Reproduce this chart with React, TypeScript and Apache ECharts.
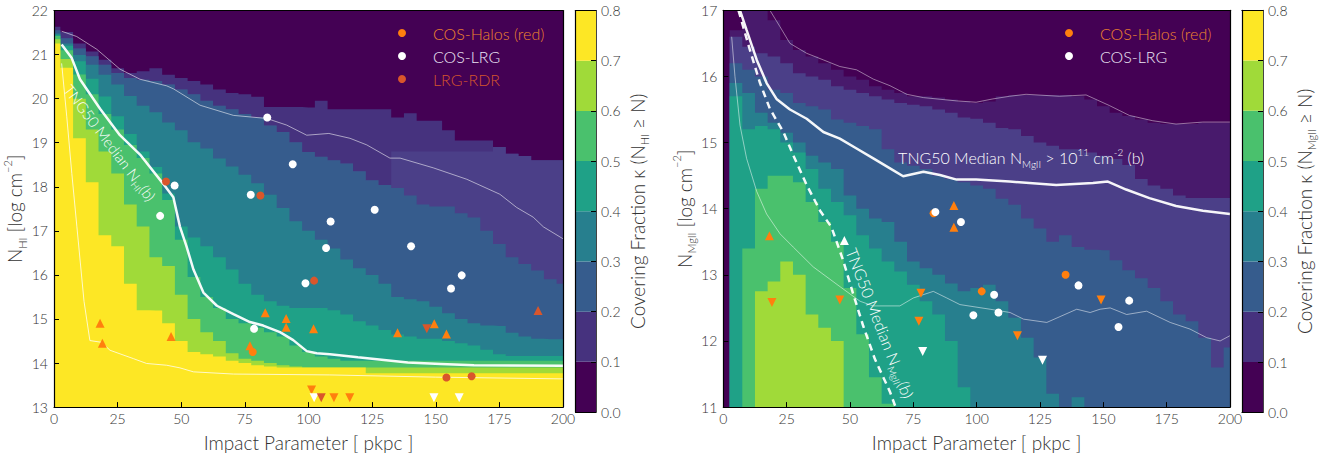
import { useEffect, useRef } from 'react';
import * as echarts from 'echarts';

const FONT = 'Lato, "Open Sans", "DejaVu Sans", sans-serif';
const FW = 300;

// impact parameters (pkpc) of the covering-fraction map columns
const mapB = [0, 5, 10, 15, 20, 25, 30, 35, 40, 45, 50, 55, 60, 65, 70, 75, 80, 85, 90, 95, 100,
  105, 110, 115, 120, 125, 130, 135, 140, 145, 150, 155, 160, 165, 170, 175, 180, 185, 190, 195, 200];

// ---------- HI panel: upper edge (log N) of each covering-fraction band ----------
const hiBand1 = [21.63, 21.51, 21.25, 21.07, 20.88, 20.69, 20.58, 20.62, 20.69, 20.54, 20.47, 20.40, 20.32, 20.21, 20.13, 20.10, 20.04, 19.81, 19.81, 19.81, 19.80,
  19.95, 19.76, 19.76, 19.76, 19.76, 19.76, 19.57, 19.67, 19.5, 19.5, 19.28, 19.05, 19.05, 19.05, 18.9, 18.75, 18.7, 18.6, 18.6, 18.6];
const hiBand1b = [21.55, 21.37, 21.14, 20.96, 20.77, 20.58, 20.47, 20.43, 20.40, 20.32, 20.21, 20.10, 19.95, 19.84, 19.76, 19.65, 19.57, 19.39, 19.24, 19.01, 18.79,
  18.68, 18.6, 18.53, 18.35, 18.15, 18.04, 18.8, 18.8, 18.8, 18.8, 18.8, 18.8, 18.8, 18.8, 18.9, 18.75, 18.7, 18.6, 18.6, 18.6];
const hiBand2 = [21.55, 21.37, 21.14, 20.96, 20.77, 20.58, 20.47, 20.43, 20.40, 20.32, 20.21, 20.10, 19.95, 19.84, 19.76, 19.65, 19.57, 19.39, 19.24, 19.01, 18.79,
  18.68, 18.6, 18.53, 18.35, 18.15, 18.04, 17.97, 17.8, 17.6, 17.55, 17.55, 17.4, 17.3, 17.0, 16.7, 16.4, 16.25, 16.1, 15.9, 15.8];
const hiBand3 = [21.48, 21.25, 20.99, 20.77, 20.54, 20.32, 20.06, 19.84, 19.69, 19.46, 19.28, 19.01, 18.87, 18.64, 18.46, 18.27, 18.08, 17.82, 17.52, 17.22, 17.0,
  16.8, 16.6, 16.35, 16.15, 16.0, 15.8, 15.5, 15.45, 15.4, 15.28, 15.13, 15.0, 14.9, 14.85, 14.84, 14.69, 14.6, 14.55, 14.54, 14.54];
const hiBand4 = [21.45, 21.2, 20.85, 20.45, 20.05, 19.6, 19.2, 18.8, 18.45, 17.85, 17.1, 16.85, 16.65, 16.4, 16.12, 15.8, 15.55, 15.4, 15.3, 15.25, 15.25,
  15.25, 15.2, 15.1, 14.95, 14.85, 14.75, 14.65, 14.6, 14.55, 14.55, 14.5, 14.45, 14.4, 14.3, 14.2, 14.16, 14.16, 14.16, 14.16, 14.16];
const hiBand5 = [21.42, 21.1, 20.55, 20.1, 19.65, 19.3, 18.95, 18.65, 18.3, 17.7, 16.8, 15.95, 15.5, 15.25, 15.0, 14.9, 14.8, 14.7, 14.6, 14.4, 14.25,
  14.15, 14.1, 14.05, 14.05, 14.05, 14.05, 14.05, 14.05, 14.05, 14.05, 14.05, 14.05, 14.05, 14.05, 14.05, 14.05, 14.05, 14.05, 14.05, 14.05];
const hiBand6 = [21.35, 20.9, 20.0, 19.3, 18.8, 18.3, 17.6, 17.1, 16.4, 16.2, 15.55, 15.0, 14.7, 14.5, 14.22, 14.1, 14.05, 14.0, 13.95, 13.92, 13.9,
  13.9, 13.9, 13.9, 13.9, 13.9, 13.9, 13.9, 13.9, 13.9, 13.9, 13.9, 13.9, 13.9, 13.9, 13.9, 13.9, 13.9, 13.9, 13.9, 13.9];
const hiBand7 = [21.25, 20.7, 19.1, 18.1, 16.9, 16.65, 15.8, 15.2, 15.19, 14.9, 14.5, 14.25, 14.2, 14.15, 14.05, 14.0, 13.95, 13.92, 13.9, 13.9, 13.9,
  13.9, 13.9, 13.9, 13.9, 13.77, 13.77, 13.77, 13.77, 13.77, 13.77, 13.77, 13.77, 13.77, 13.77, 13.77, 13.77, 13.77, 13.77, 13.77, 13.77];
const hiBandColors = ['#46327e', '#4b3f88', '#365c8d', '#277f8e', '#1fa187', '#4ac16d', '#a0da39', '#fde725'];

// ---------- MgII panel: upper edge (log N) of each band ----------
const mgBand0b = [11, 16.7, 17, 17, 16.85, 16.55, 16.4, 16.3, 16.2, 16.1, 16.0, 15.95, 15.85, 15.8, 15.75, 15.7, 15.7, 15.68, 15.65, 15.62, 15.6,
  15.62, 15.7, 15.72, 15.72, 15.72, 15.72, 15.72, 15.7, 15.65, 15.55, 15.45, 15.4, 15.35, 15.3, 15.28, 15.28, 15.28, 15.3, 15.3, 15.3];
const mgBand1 = [11, 16.6, 16.45, 16.35, 16.3, 16.2, 16.05, 16.0, 15.95, 15.85, 15.8, 15.75, 15.7, 15.65, 15.6, 15.57, 15.55, 15.5, 15.45, 15.38, 15.36,
  15.3, 15.22, 15.2, 15.1, 15.0, 14.95, 14.9, 14.9, 14.85, 14.8, 14.75, 14.66, 14.45, 14.35, 14.3, 14.2, 14.16, 14.16, 14.16, 14.16];
const mgBand2 = [11, 16.2, 16.1, 16.0, 15.8, 15.75, 15.6, 15.55, 15.5, 15.35, 15.3, 15.25, 15.2, 14.9, 14.7, 14.65, 14.6, 14.5, 14.45, 14.4, 14.35,
  14.3, 14.15, 14.06, 13.85, 13.7, 13.5, 13.6, 13.42, 13.38, 13.37, 13.22, 13.07, 12.95, 12.8, 12.6, 12.4, 12.3, 12.05, 11.6, 11.9];
const mgBand3 = [11, 15.9, 15.75, 15.45, 15.3, 15.15, 15.0, 14.8, 14.7, 14.6, 14.2, 14.0, 13.85, 13.8, 13.5, 13.2, 13.1, 13.0, 12.87, 12.75, 12.8,
  12.85, 12.6, 12.35, 12.05, 11.75, 11.2, 11, 11.15, 11, 11, 11, 11, 11, 11, 11, 11, 11, 11, 11, 11];
const mgBand4 = [11, 15.7, 15.2, 15.25, 15.2, 15.0, 14.85, 14.6, 14.3, 14.1, 13.9, 13.6, 13.4, 13.2, 13.05, 12.85, 12.6, 12.4, 12.0, 11.3, 11,
  11, 11, 11, 11, 11, 11, 11, 11, 11, 11, 11, 11, 11, 11, 11, 11, 11, 11, 11, 11];
const mgBand5 = [11, 11, 13.4, 14.3, 14.5, 14.5, 14.4, 14.1, 13.8, 13.5, 12.8, 12.1, 11.45, 11.05, 11, 11, 11, 11, 11, 11, 11,
  11, 11, 11, 11, 11, 11, 11, 11, 11, 11, 11, 11, 11, 11, 11, 11, 11, 11, 11, 11];
const mgBand6 = [11, 11, 11, 12.75, 12.9, 13.2, 13.0, 12.4, 12.2, 12.0, 11, 11, 11, 11, 11, 11, 11, 11, 11, 11, 11,
  11, 11, 11, 11, 11, 11, 11, 11, 11, 11, 11, 11, 11, 11, 11, 11, 11, 11, 11, 11];
const mgBandColors = ['#481a6c', '#4b3f88', '#365c8d', '#277f8e', '#1fa187', '#4ac16d', '#a0da39'];

// colour bar
const cbEdges = [0, 0.1, 0.2, 0.3, 0.4, 0.5, 0.6, 0.7, 0.8];
const cbColors = ['#440154', '#46327e', '#365c8d', '#277f8e', '#1fa187', '#4ac16d', '#a0da39', '#fde725'];

// ---------- TNG50 profile lines ----------
const hiMedianB = [3, 6.9, 10.2, 18.1, 25.9, 33.8, 43, 46.9, 49.5, 52.1, 54.8, 58.7, 64, 70.5, 77, 82.2, 88.8, 94, 99.3, 103.2, 108.4, 119.4, 139, 152, 165, 200];
const hiMedianN = [21.23, 20.93, 20.44, 19.77, 19.17, 18.73, 18.06, 17.76, 17.09, 16.64, 16.12, 15.6, 15.3, 15.11, 14.93, 14.85, 14.7, 14.52, 14.27, 14.22, 14.2, 14.13, 14.01, 13.98, 13.95, 13.94];
const hiUpperB = [3, 8.9, 16.8, 25.9, 33.8, 44.3, 47, 57.4, 70.5, 83.6, 91.4, 99.3, 108, 116.3, 122.9, 132, 136, 149, 162.2, 175.2, 181.8, 188.3, 192.3, 200];
const hiUpperN = [21.53, 21.41, 21.12, 20.67, 20.44, 20.29, 20.22, 19.85, 19.62, 19.55, 19.4, 19.17, 19.21, 19.1, 18.95, 18.65, 18.65, 18.43, 18.17, 17.83, 17.53, 17.31, 17.09, 16.82];
const hiLowerB = [3, 5, 7, 9, 11.8, 14.1, 18.7, 22, 31.2, 36.4, 44.3, 49.5, 54.8, 70.5, 108.4, 150, 200];
const hiLowerN = [20.8, 19.6, 18.3, 17.09, 15.4, 14.51, 14.47, 14.29, 14.1, 13.99, 13.95, 13.89, 13.8, 13.75, 13.73, 13.68, 13.64];

const mgMedianB = [6.6, 9.2, 13.2, 17.1, 21, 26.3, 32.9, 39.5, 46, 52.6, 59.2, 65.8, 71, 79, 85.5, 92.1, 99.8, 113, 131.4, 145.9, 151.8, 159, 168.2, 178.7, 189.3, 200];
const mgMedianN = [17.0, 16.7, 16.25, 15.9, 15.66, 15.5, 15.36, 15.16, 15.06, 14.91, 14.76, 14.61, 14.49, 14.56, 14.51, 14.44, 14.44, 14.41, 14.36, 14.39, 14.41, 14.29, 14.16, 14.04, 13.97, 13.92];
const mgAllB = [6, 10.5, 14.5, 18.4, 23.7, 27.6, 32.9, 38.2, 42.7, 47.3, 51.2, 55.2, 59.8, 65.8, 68];
const mgAllN = [17, 16.4, 15.9, 15.51, 15.16, 14.81, 14.36, 13.97, 13.72, 13.22, 12.72, 12.23, 11.73, 11.23, 11.0];
const mgUpperB = [18.4, 22.4, 26.3, 32.9, 39.5, 46, 52.6, 59.2, 65.8, 72.4, 79, 92.1, 99.8, 106.4, 113, 119.5, 132.7, 143.2, 152.4, 160.3, 169.5, 178.7, 189.3, 200];
const mgUpperN = [17.0, 16.75, 16.5, 16.35, 16.25, 16.15, 16.1, 15.96, 15.86, 15.73, 15.68, 15.63, 15.61, 15.66, 15.7, 15.73, 15.7, 15.72, 15.56, 15.41, 15.33, 15.28, 15.31, 15.31];
const mgLowerB = [3.3, 4.6, 6.6, 9.2, 13.2, 17.1, 22.4, 27.6, 35.5, 46.1, 54, 59.2, 69.7, 75, 82.9, 88.2, 93.4, 105.3, 113.2, 118.5, 127.7, 139.5, 144.8, 148.7, 152.7, 159.2, 167.1, 176.4, 184.2, 190.8, 196.1, 200];
const mgLowerN = [16.6, 16.0, 15.26, 14.76, 14.26, 13.92, 13.62, 13.42, 13.12, 12.82, 12.6, 12.53, 12.53, 12.65, 12.75, 12.65, 12.55, 12.48, 12.43, 12.33, 12.28, 12.48, 12.43, 12.48, 12.5, 12.4, 12.45, 12.28, 12.18, 12.05, 12.0, 12.08];

// ---------- observations [b, logN] ----------
const hiHalosDet = [[78.1, 14.25]];
const hiHalosLower = [[18.1, 14.9], [19, 14.45], [46, 14.6], [77, 14.39], [83, 15.14], [91.2, 15.01], [91.2, 14.81], [102, 14.78], [135, 14.69], [149.4, 14.89], [154.2, 14.66]];
const hiHalosUpper = [[101.2, 13.39], [110, 13.21], [116.2, 13.21]];
const hiLrgDet = [[83.8, 19.57], [93.8, 18.51], [47.4, 18.03], [77.3, 17.82], [41.7, 17.34], [98.8, 15.81], [78.6, 14.78], [108.7, 17.21], [126, 17.48], [106.9, 16.61], [140.3, 16.65], [160.2, 15.99], [156, 15.69]];
const hiLrgUpper = [[102.2, 13.21], [149.3, 13.21], [159.2, 13.21]];
const hiRdrDet = [[44, 18.12], [81.1, 17.8], [102.2, 15.87], [154.2, 13.67], [164.1, 13.7]];
const hiRdrLower = [[190.2, 15.19]];
const hiRdrUpper = [[146.5, 14.78], [105, 13.21]];

const mgHalosDet = [[83, 13.93], [102, 12.75], [135.1, 13.0]];
const mgHalosLower = [[18.2, 13.59], [91, 14.05], [91, 13.72]];
const mgHalosUpper = [[19.2, 12.58], [46, 12.62], [78, 12.72], [77.2, 12.3], [116.1, 12.08], [149.1, 12.62]];
const mgLrgDet = [[83.7, 13.95], [93.8, 13.8], [98.7, 12.39], [106.9, 12.7], [108.6, 12.43], [140.2, 12.84], [160.2, 12.61], [156, 12.21]];
const mgLrgLower = [[47.8, 13.52]];
const mgLrgUpper = [[78.7, 11.84], [126, 11.71]];

const HALOS = '#ff7f0e';
const LRG = '#ffffff';
const RDR = '#d9562b';

const pairs = (xs: number[], ys: number[]) => xs.map((x, i) => [x, ys[i]]);

function bandSeries(bands: number[][], colors: string[], axis: number) {
  return bands.map((b, i) => ({
    type: 'line', xAxisIndex: axis, yAxisIndex: axis, step: 'middle', symbol: 'none', silent: true,
    data: pairs(mapB, b), lineStyle: { width: 0 },
    areaStyle: { color: colors[i], opacity: 1, origin: 'start' }, z: 1 + i * 0.01,
  }));
}

function profile(xs: number[], ys: number[], axis: number, color: string, width: number, type: any = 'solid') {
  return {
    type: 'line', xAxisIndex: axis, yAxisIndex: axis, data: pairs(xs, ys), symbol: 'none', silent: true,
    lineStyle: { color, width, type }, z: 4,
  };
}

function pts(data: number[][], axis: number, color: string, kind: string) {
  const isCircle = kind === 'o';
  return {
    type: 'scatter', xAxisIndex: axis, yAxisIndex: axis, data, silent: true,
    symbol: isCircle ? 'circle' : 'triangle', symbolRotate: kind === 'v' ? 180 : 0,
    symbolSize: isCircle ? 8 : 9, itemStyle: { color, opacity: 1 }, z: 6,
  };
}

const lineAx = { show: true, onZero: false, lineStyle: { color: '#000', width: 1.2 } };
const subRich = {
  s: { fontSize: 11, lineHeight: 14, verticalAlign: 'bottom', fontFamily: FONT, fontWeight: FW, color: '#333' },
  p: { fontSize: 11, lineHeight: 14, verticalAlign: 'top', fontFamily: FONT, fontWeight: FW, color: '#333' },
};
const nameStyle = { fontSize: 19, color: '#333', fontFamily: FONT, fontWeight: FW, lineHeight: 26, rich: subRich };

function mainX(grid: number) {
  return {
    type: 'value', gridIndex: grid, min: 0, max: 200, interval: 25, position: 'bottom', z: 10,
    axisLine: lineAx, axisTick: { show: true, inside: true, length: 5, lineStyle: { color: '#000', width: 1 } },
    axisLabel: { color: '#333', fontSize: 14, margin: 4, fontFamily: FONT, fontWeight: FW }, splitLine: { show: false },
    name: 'Impact Parameter [ pkpc ]', nameLocation: 'middle', nameGap: 18,
    nameTextStyle: { fontSize: 19, color: '#333', fontFamily: FONT, fontWeight: FW, lineHeight: 24 },
  };
}
function mainY(grid: number, min: number, max: number, name: string, gap: number) {
  return {
    type: 'value', gridIndex: grid, min, max, interval: 1, position: 'left', z: 10,
    axisLine: lineAx, axisTick: { show: true, inside: true, length: 5, lineStyle: { color: '#000', width: 1 } },
    axisLabel: { color: '#333', fontSize: 14, margin: 6, fontFamily: FONT, fontWeight: FW }, splitLine: { show: false },
    name, nameLocation: 'middle', nameGap: gap, nameRotate: 90, nameTextStyle: nameStyle,
  };
}
function borderAx(grid: number, position: string, min: any, max: any, cat = false) {
  const base: any = {
    gridIndex: grid, position, z: 10, axisLine: lineAx, axisTick: { show: false },
    axisLabel: { show: false }, splitLine: { show: false },
  };
  if (cat) return { ...base, type: 'category', data: ['κ'] };
  return { ...base, type: 'value', min, max };
}
function cbY(grid: number, name: string) {
  return {
    type: 'value', gridIndex: grid, min: 0, max: 0.8, interval: 0.1, position: 'right', z: 10,
    axisLine: { show: true, lineStyle: { color: '#444', width: 1 } },
    axisTick: { show: true, inside: true, length: 5, lineStyle: { color: '#000', width: 1 } },
    axisLabel: { color: '#333', fontSize: 14, margin: 5, fontFamily: FONT, fontWeight: FW, formatter: (v: number) => v.toFixed(1) },
    splitLine: { show: false }, name, nameLocation: 'middle', nameRotate: 90, nameGap: 24, nameTextStyle: nameStyle,
  };
}
function cbSeries(axis: number, stack: string) {
  return cbColors.map((c, i) => ({
    type: 'bar', xAxisIndex: axis, yAxisIndex: axis + 1, stack, barWidth: '100%', silent: true,
    data: [+(cbEdges[i + 1] - cbEdges[i]).toFixed(2)], itemStyle: { color: c }, z: 2,
  }));
}

export default function App() {
  const ref = useRef<HTMLDivElement>(null);
  useEffect(() => {
    document.body.style.margin = '0';
    const chart = echarts.init(ref.current as HTMLDivElement, null, { renderer: 'svg' });
    const option: any = {
      animation: false,
      textStyle: { fontFamily: FONT },
      grid: [
        { left: 54, top: 10.5, width: 509, height: 401.5, show: true, backgroundColor: '#440154', borderWidth: 0 },
        { left: 575.5, top: 10.5, width: 20.5, height: 401.5 },
        { left: 723.3, top: 10.3, width: 506.7, height: 402, show: true, backgroundColor: '#440154', borderWidth: 0 },
        { left: 1242, top: 10.3, width: 21, height: 402 },
      ],
      xAxis: [
        mainX(0), borderAx(0, 'top', 0, 200),
        borderAx(1, 'bottom', 0, 0, true), borderAx(1, 'top', 0, 0, true),
        mainX(2), borderAx(2, 'top', 0, 200),
        borderAx(3, 'bottom', 0, 0, true), borderAx(3, 'top', 0, 0, true),
      ],
      yAxis: [
        mainY(0, 13, 22, 'N{s|HI} [log cm{p|−2}]', 23), borderAx(0, 'right', 13, 22),
        borderAx(1, 'left', 0, 0.8), cbY(1, 'Covering Fraction κ (N{s|HI} ≥ N)'),
        mainY(2, 11, 17, 'N{s|MgII} [log cm{p|−2}]', 20), borderAx(2, 'right', 11, 17),
        borderAx(3, 'left', 0, 0.8), cbY(3, 'Covering Fraction κ (N{s|MgII} ≥ N)'),
      ],
      series: [
        ...bandSeries([hiBand1, hiBand1b, hiBand2, hiBand3, hiBand4, hiBand5, hiBand6, hiBand7], hiBandColors, 0),
        profile(hiUpperB, hiUpperN, 0, 'rgba(255,255,255,0.55)', 1),
        profile(hiLowerB, hiLowerN, 0, 'rgba(255,255,255,0.75)', 1),
        profile(hiMedianB, hiMedianN, 0, 'rgba(255,255,255,0.95)', 2.5),
        pts(hiHalosDet, 0, HALOS, 'o'), pts(hiHalosLower, 0, HALOS, '^'), pts(hiHalosUpper, 0, HALOS, 'v'),
        pts(hiLrgDet, 0, LRG, 'o'), pts(hiLrgUpper, 0, LRG, 'v'),
        pts(hiRdrDet, 0, RDR, 'o'), pts(hiRdrLower, 0, RDR, '^'), pts(hiRdrUpper, 0, RDR, 'v'),
        ...cbSeries(2, 'cbL'),
        ...bandSeries([mgBand0b, mgBand1, mgBand2, mgBand3, mgBand4, mgBand5, mgBand6], mgBandColors, 4),
        profile(mgUpperB, mgUpperN, 4, 'rgba(255,255,255,0.45)', 1),
        profile(mgLowerB, mgLowerN, 4, 'rgba(255,255,255,0.5)', 1),
        profile(mgMedianB, mgMedianN, 4, 'rgba(255,255,255,0.95)', 2.5),
        profile(mgAllB, mgAllN, 4, 'rgba(255,255,255,0.95)', 2.5, [7, 5]),
        pts(mgHalosDet, 4, HALOS, 'o'), pts(mgHalosLower, 4, HALOS, '^'), pts(mgHalosUpper, 4, HALOS, 'v'),
        pts(mgLrgDet, 4, LRG, 'o'), pts(mgLrgLower, 4, LRG, '^'), pts(mgLrgUpper, 4, LRG, 'v'),
        ...cbSeries(6, 'cbR'),
      ],
    };
    chart.setOption(option);

    const toPx = (axis: number, p: number[]) => chart.convertToPixel({ xAxisIndex: axis, yAxisIndex: axis } as any, p) as number[];
    const white = '#ffffff';
    const annRich = (fs: number) => ({
      s: { fontSize: fs * 0.62, lineHeight: fs * 0.7, verticalAlign: 'bottom', fill: white, fontFamily: FONT, fontWeight: FW },
      p: { fontSize: fs * 0.62, lineHeight: fs * 0.7, verticalAlign: 'top', fill: white, fontFamily: FONT, fontWeight: FW },
    });
    const ann = (axis: number, at: number[], text: string, fs: number, deg: number, align: string) => {
      const [x, y] = toPx(axis, at);
      return {
        type: 'text', x, y, rotation: (deg * Math.PI) / 180, z: 20, silent: true,
        style: {
          text, fill: white, fontSize: fs, fontFamily: FONT, fontWeight: FW, lineHeight: fs * 1.35,
          align, textAlign: align, verticalAlign: 'middle', textVerticalAlign: 'middle', rich: annRich(fs),
        },
      };
    };
    const legendItems = [
      { x: 402, y: 33, c: HALOS, t: 'COS-Halos (red)', tc: '#f0842e' },
      { x: 402, y: 56, c: LRG, t: 'COS-LRG', tc: '#ece6f4' },
      { x: 402, y: 79, c: RDR, t: 'LRG-RDR', tc: '#d4552c' },
      { x: 1069, y: 33, c: HALOS, t: 'COS-Halos (red)', tc: '#f0842e' },
      { x: 1069, y: 56, c: LRG, t: 'COS-LRG', tc: '#ece6f4' },
    ];
    const legend: any[] = [];
    legendItems.forEach((it) => {
      legend.push({ type: 'circle', shape: { cx: it.x, cy: it.y, r: 4 }, style: { fill: it.c }, z: 20, silent: true });
      legend.push({
        type: 'text', x: it.x + 31, y: it.y, z: 20, silent: true,
        style: { text: it.t, fill: it.tc, fontSize: 16, fontFamily: FONT, fontWeight: FW, align: 'left', textAlign: 'left', verticalAlign: 'middle', textVerticalAlign: 'middle' },
      });
    });
    chart.setOption({
      graphic: [
        ann(0, [22, 19.0], 'TNG50 Median N{s|HI}(b)', 15, -53, 'center'),
        ann(4, [69, 14.77], 'TNG50 Median N{s|MgII} > 10{p|11} cm{p|-2} (b)', 16, 0, 'left'),
        ann(4, [61.9, 12.27], 'TNG50 Median N{s|MgII}(b)', 16, -68.7, 'center'),
        ...legend,
      ],
    });
    return () => chart.dispose();
  }, []);
  return <div ref={ref} style={{ width: 1327, height: 459, overflow: 'hidden' }} />;
}
